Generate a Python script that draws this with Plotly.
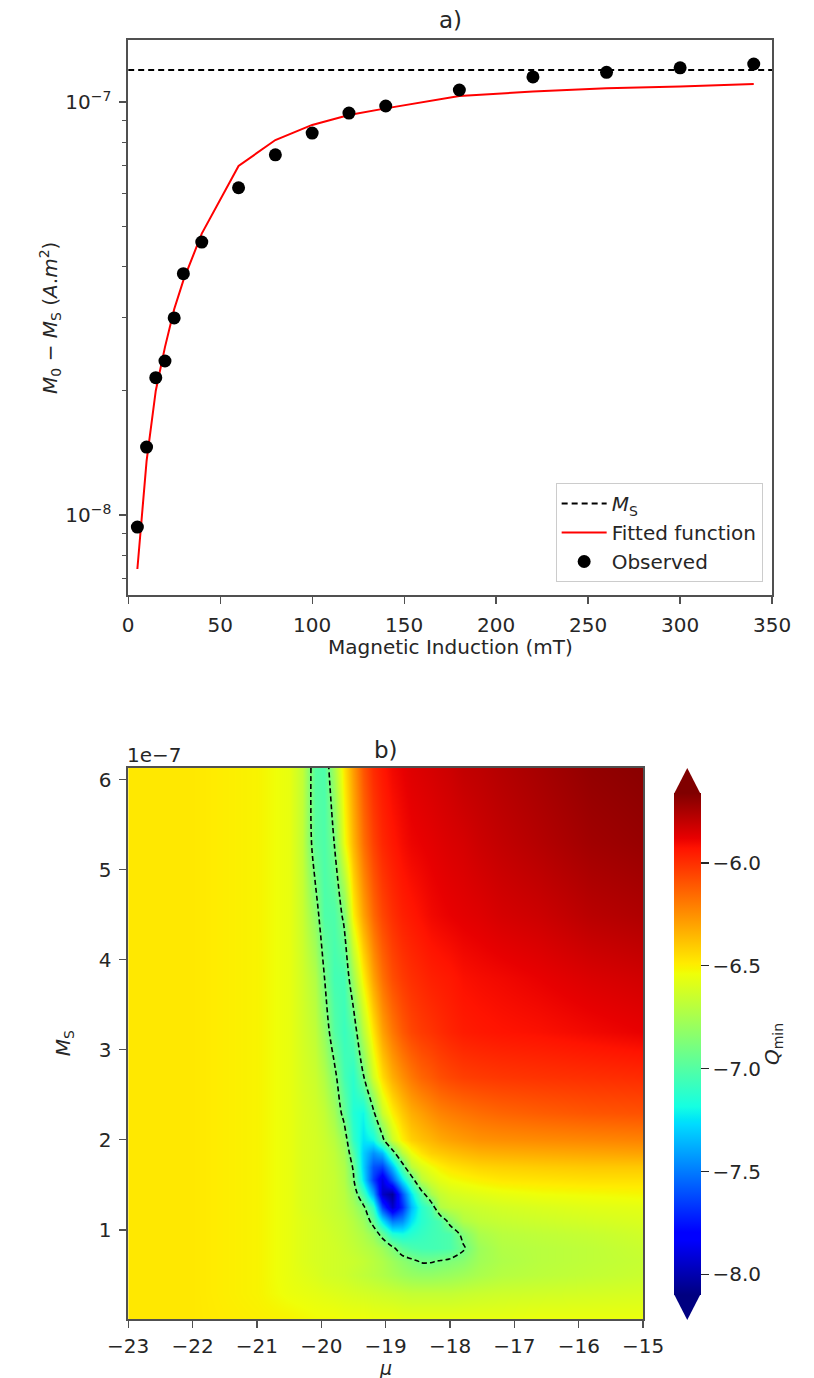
import plotly.graph_objects as go

W, H = 814, 1378
FONT = "DejaVu Sans"
TXT = "#262626"
SPINE = "#505050"

# ---------------- panel a data ----------------
field_mT = [5, 10, 15, 20, 25, 30, 40, 60, 80, 100, 120, 140, 180, 220, 260, 300, 340]
observed_M = [9.35e-9, 1.46e-8, 2.15e-8, 2.36e-8, 3.0e-8, 3.84e-8, 4.58e-8, 6.2e-8,
              7.45e-8, 8.41e-8, 9.4e-8, 9.78e-8, 1.069e-7, 1.15e-7, 1.18e-7, 1.21e-7, 1.236e-7]
fitted_M = [7.4e-9, 1.35e-8, 2.0e-8, 2.55e-8, 3.15e-8, 3.7e-8, 4.8e-8, 7.0e-8,
            8.09e-8, 8.8e-8, 9.3e-8, 9.65e-8, 1.034e-7, 1.06e-7, 1.08e-7, 1.09e-7, 1.105e-7]
ms_line_x = [0, 350]
ms_line_y = [1.195e-7, 1.195e-7]
a_xticks = [0, 50, 100, 150, 200, 250, 300, 350]
a_yticks = [1e-8, 1e-7]
a_yticktext = ["10<sup>\u22128</sup>", "10<sup>\u22127</sup>"]
a_yminor = [7e-9, 8e-9, 9e-9, 2e-8, 3e-8, 4e-8, 5e-8, 6e-8, 7e-8, 8e-8, 9e-8]

# ---------------- panel b data ----------------
mu_grid = [-23, -22, -21, -20.5, -20.3, -20.1, -19.95, -19.8, -19.65, -19.5, -19.35, -19.2, -19.05,
           -18.9, -18.75, -18.6, -18.45, -18.3, -18.15, -18.0, -17.8, -17.55, -17.2, -16.6, -15.8, -15]
ms_grid = [0.01, 0.3, 0.5, 0.65, 0.8, 0.95, 1.1, 1.25, 1.4, 1.55, 1.7, 1.85, 2.0, 2.3, 2.7, 3.2,
           3.8, 4.5, 5.3, 6.13]  # units of 1e-7
q_grid = [
    [-6.48, -6.48, -6.5, -6.51, -6.52, -6.53, -6.53, -6.53, -6.54, -6.54, -6.54, -6.55, -6.55, -6.55, -6.56, -6.56, -6.56, -6.56, -6.56, -6.56, -6.56, -6.56, -6.56, -6.55, -6.55, -6.55],
    [-6.48, -6.48, -6.51, -6.55, -6.56, -6.57, -6.58, -6.59, -6.6, -6.61, -6.62, -6.63, -6.64, -6.65, -6.66, -6.67, -6.67, -6.67, -6.67, -6.67, -6.66, -6.65, -6.64, -6.63, -6.62, -6.61],
    [-6.48, -6.48, -6.51, -6.56, -6.58, -6.6, -6.62, -6.63, -6.64, -6.66, -6.68, -6.7, -6.72, -6.75, -6.78, -6.8, -6.81, -6.81, -6.8, -6.79, -6.77, -6.74, -6.71, -6.69, -6.67, -6.65],
    [-6.48, -6.48, -6.51, -6.56, -6.59, -6.61, -6.62, -6.63, -6.64, -6.65, -6.67, -6.7, -6.73, -6.78, -6.83, -6.87, -6.91, -6.91, -6.89, -6.87, -6.84, -6.77, -6.73, -6.7, -6.68, -6.66],
    [-6.48, -6.48, -6.51, -6.56, -6.59, -6.61, -6.62, -6.63, -6.65, -6.67, -6.7, -6.73, -6.78, -6.87, -6.98, -7.03, -7.05, -7.05, -7.04, -7.02, -6.92, -6.78, -6.72, -6.7, -6.68, -6.65],
    [-6.48, -6.48, -6.51, -6.56, -6.59, -6.61, -6.62, -6.64, -6.66, -6.69, -6.73, -6.8, -6.95, -7.15, -7.18, -7.13, -7.09, -7.06, -7.04, -7.02, -6.86, -6.74, -6.7, -6.68, -6.66, -6.63],
    [-6.48, -6.48, -6.51, -6.56, -6.59, -6.61, -6.63, -6.65, -6.67, -6.71, -6.78, -6.95, -7.25, -7.5, -7.45, -7.25, -7.13, -7.07, -7.02, -6.84, -6.72, -6.68, -6.66, -6.64, -6.62, -6.6],
    [-6.48, -6.48, -6.51, -6.56, -6.6, -6.62, -6.64, -6.66, -6.69, -6.75, -6.86, -7.1, -7.65, -7.95, -7.7, -7.35, -7.13, -7.02, -6.72, -6.68, -6.66, -6.64, -6.62, -6.6, -6.58, -6.57],
    [-6.48, -6.48, -6.51, -6.56, -6.6, -6.62, -6.64, -6.66, -6.7, -6.8, -7.05, -7.4, -7.95, -8.05, -7.6, -7.25, -6.98, -6.75, -6.66, -6.62, -6.6, -6.58, -6.56, -6.54, -6.53, -6.52],
    [-6.48, -6.48, -6.51, -6.56, -6.6, -6.62, -6.64, -6.66, -6.72, -6.88, -7.25, -7.65, -7.9, -7.6, -7.25, -7.0, -6.7, -6.62, -6.57, -6.54, -6.52, -6.5, -6.48, -6.47, -6.46, -6.46],
    [-6.48, -6.48, -6.51, -6.56, -6.6, -6.62, -6.64, -6.67, -6.73, -6.92, -7.3, -7.6, -7.65, -7.35, -7.0, -6.7, -6.6, -6.54, -6.5, -6.47, -6.45, -6.43, -6.42, -6.41, -6.4, -6.4],
    [-6.48, -6.48, -6.51, -6.56, -6.6, -6.62, -6.64, -6.68, -6.76, -7.0, -7.3, -7.45, -7.35, -7.0, -6.7, -6.55, -6.47, -6.42, -6.4, -6.38, -6.36, -6.34, -6.33, -6.32, -6.31, -6.3],
    [-6.48, -6.48, -6.51, -6.56, -6.6, -6.62, -6.65, -6.7, -6.8, -7.1, -7.25, -7.2, -6.95, -6.65, -6.5, -6.42, -6.38, -6.35, -6.32, -6.3, -6.28, -6.26, -6.25, -6.24, -6.23, -6.22],
    [-6.48, -6.48, -6.51, -6.56, -6.6, -6.63, -6.67, -6.76, -6.95, -7.15, -7.2, -6.95, -6.65, -6.5, -6.4, -6.33, -6.29, -6.25, -6.22, -6.2, -6.18, -6.16, -6.14, -6.12, -6.1, -6.09],
    [-6.48, -6.48, -6.51, -6.56, -6.61, -6.65, -6.72, -6.85, -7.05, -7.12, -6.92, -6.62, -6.45, -6.33, -6.25, -6.19, -6.14, -6.11, -6.08, -6.06, -6.04, -6.03, -6.02, -6.01, -6.0, -5.99],
    [-6.48, -6.48, -6.51, -6.56, -6.62, -6.68, -6.8, -7.0, -7.08, -7.0, -6.7, -6.47, -6.3, -6.19, -6.11, -6.06, -6.03, -6.01, -5.99, -5.97, -5.95, -5.94, -5.93, -5.92, -5.9, -5.88],
    [-6.48, -6.48, -6.51, -6.56, -6.63, -6.72, -6.9, -7.05, -7.05, -6.77, -6.5, -6.3, -6.17, -6.08, -6.03, -6.0, -5.98, -5.96, -5.95, -5.94, -5.92, -5.91, -5.9, -5.88, -5.85, -5.83],
    [-6.48, -6.48, -6.51, -6.56, -6.65, -6.82, -7.02, -7.02, -6.87, -6.5, -6.3, -6.15, -6.06, -6.0, -5.96, -5.94, -5.92, -5.9, -5.89, -5.88, -5.87, -5.86, -5.84, -5.82, -5.78, -5.76],
    [-6.48, -6.48, -6.51, -6.56, -6.67, -6.98, -7.02, -6.9, -6.55, -6.35, -6.17, -6.05, -5.98, -5.94, -5.91, -5.89, -5.88, -5.87, -5.86, -5.85, -5.84, -5.82, -5.8, -5.77, -5.73, -5.71],
    [-6.48, -6.48, -6.51, -6.56, -6.67, -7.0, -7.02, -6.75, -6.47, -6.28, -6.1, -5.99, -5.94, -5.9, -5.88, -5.86, -5.85, -5.84, -5.83, -5.82, -5.8, -5.79, -5.77, -5.74, -5.7, -5.68],
]
contour_level = -6.9
b_xticks = [-23, -22, -21, -20, -19, -18, -17, -16, -15]
b_yticks = [1, 2, 3, 4, 5, 6]
cb_ticks = [-8.0, -7.5, -7.0, -6.5, -6.0]
q_lo, q_hi = -8.1, -5.66

jet = [
    [0.0, "rgb(0,0,128)"], [0.11, "rgb(0,0,255)"], [0.125, "rgb(0,0,255)"],
    [0.34, "rgb(0,219,255)"], [0.35, "rgb(0,230,247)"], [0.375, "rgb(21,255,226)"],
    [0.64, "rgb(239,255,8)"], [0.65, "rgb(247,245,0)"], [0.66, "rgb(255,236,0)"],
    [0.89, "rgb(255,19,0)"], [0.91, "rgb(232,0,0)"], [1.0, "rgb(128,0,0)"],
]


def fx(p):
    return p / W


def fy(p):
    return 1 - p / H


def neg(v, fmt):
    s = format(abs(v), fmt)
    return ("\u2212" + s) if v < 0 else s


fig = go.Figure()

# panel a traces
fig.add_trace(go.Scatter(x=ms_line_x, y=ms_line_y, mode="lines",
                         line=dict(color="black", width=2, dash="6px,4px"),
                         name="<i>M</i><sub>S</sub>", xaxis="x", yaxis="y"))
fig.add_trace(go.Scatter(x=field_mT, y=fitted_M, mode="lines",
                         line=dict(color="#ff0000", width=2),
                         name="Fitted function", xaxis="x", yaxis="y"))
fig.add_trace(go.Scatter(x=field_mT, y=observed_M, mode="markers",
                         marker=dict(color="black", size=13),
                         name="Observed", xaxis="x", yaxis="y"))

# panel b traces
fig.add_trace(go.Heatmap(
    x=mu_grid, y=ms_grid, z=q_grid, zsmooth="best", colorscale=jet, zmin=q_lo, zmax=q_hi,
    xaxis="x2", yaxis="y2", showlegend=False, hoverinfo="skip",
    colorbar=dict(
        x=fx(689), xanchor="left", xref="paper", y=fy(1044), yanchor="middle",
        len=(1295 - 793) / H, lenmode="fraction", thickness=27, thicknessmode="pixels",
        xpad=0, ypad=0, outlinewidth=0,
        tickmode="array", tickvals=cb_ticks, ticktext=[neg(v, ".1f") for v in cb_ticks],
        ticks="outside", ticklen=8, tickwidth=1.2, tickcolor=TXT,
        tickfont=dict(size=20, family=FONT, color=TXT),
    ),
))
fig.add_trace(go.Contour(
    x=mu_grid, y=ms_grid, z=q_grid, xaxis="x2", yaxis="y2", showscale=False,
    showlegend=False, hoverinfo="skip",
    contours=dict(start=contour_level, end=contour_level, size=1, coloring="none"),
    line=dict(color="black", width=1.6, dash="5px,3px"),
))

axis_common = dict(showline=True, mirror=True, linecolor=SPINE, linewidth=1.8,
                   ticks="outside", ticklen=7, tickwidth=1.3, tickcolor=SPINE,
                   showgrid=False, zeroline=False,
                   tickfont=dict(size=20, family=FONT, color=TXT))

fig.update_layout(
    width=W, height=H, margin=dict(l=0, r=0, t=0, b=0), autosize=False,
    paper_bgcolor="white", plot_bgcolor="white",
    font=dict(family=FONT, size=20, color=TXT),
    xaxis=dict(domain=[fx(113), fx(792)], anchor="y", range=[0, 350],
               tickmode="array", tickvals=a_xticks, ticklabelstandoff=4, **axis_common),
    yaxis=dict(domain=[fy(595), fy(40)], anchor="x", type="log", range=[-8.1937, -6.8499],
               tickmode="array", tickvals=a_yticks, ticktext=a_yticktext, ticklabelstandoff=4,
               minor=dict(tickmode="array", tickvals=a_yminor, ticks="outside",
                          ticklen=4, tickwidth=1, tickcolor=SPINE),
               **axis_common),
    xaxis2=dict(domain=[fx(113), fx(656)], anchor="y2", range=[-23, -15],
                tickmode="array", tickvals=b_xticks, ticklabelstandoff=1,
                ticktext=[neg(v, "d") for v in b_xticks], **axis_common),
    yaxis2=dict(domain=[fy(1319), fy(768)], anchor="x2", range=[0.01, 6.13],
                tickmode="array", tickvals=b_yticks, ticklabelstandoff=4, **axis_common),
    legend=dict(x=fx(782), y=fy(582), xanchor="right", yanchor="bottom",
                bgcolor="rgba(255,255,255,0.85)", bordercolor="#cccccc", borderwidth=1,
                font=dict(size=20, family=FONT, color=TXT), itemwidth=45, tracegroupgap=0),
    showlegend=True,
)

ann = [
    dict(text="a)", x=fx(452.5), y=fy(20), font=dict(size=23)),
    dict(text="b)", x=fx(384.5), y=fy(750), font=dict(size=23)),
    dict(text="Magnetic Induction (mT)", x=fx(452.5), y=fy(647)),
    dict(text="<i>M</i><sub>0</sub> \u2212 <i>M</i><sub>S</sub> (<i>A</i>.<i>m</i><sup>2</sup>)",
         x=fx(31), y=fy(317.5), textangle=-90),
    dict(text="<i>\u03bc</i>", x=fx(384.5), y=fy(1368), font=dict(size=19)),
    dict(text="<i>M</i><sub>S</sub>", x=fx(45), y=fy(1043.5), textangle=-90),
    dict(text="1e\u22127", x=fx(141), y=fy(755)),
    dict(text="<i>Q</i><sub>min</sub>", x=fx(793), y=fy(1044), textangle=-90),
]
for a in ann:
    size = a.pop("font", {}).get("size", 20)
    fig.add_annotation(xref="paper", yref="paper", showarrow=False,
                       xanchor="center", yanchor="middle",
                       font=dict(family=FONT, color=TXT, size=size), **a)

# colorbar extension triangles (extend='both')
cx0, cx1, cxm = fx(689), fx(716), fx(702.5)
fig.add_shape(type="path", xref="paper", yref="paper",
              path=f"M {cx0},{fy(793)} L {cx1},{fy(793)} L {cxm},{fy(768)} Z",
              fillcolor="rgb(128,0,0)", line=dict(width=0))
fig.add_shape(type="path", xref="paper", yref="paper",
              path=f"M {cx0},{fy(1295)} L {cx1},{fy(1295)} L {cxm},{fy(1320)} Z",
              fillcolor="rgb(0,0,128)", line=dict(width=0))

fig.write_html(
    "out.html",
    config={"displayModeBar": False, "staticPlot": True},
    post_script="document.body.style.margin='0px';document.body.style.padding='0px';"
                "document.documentElement.style.overflow='hidden';",
)
